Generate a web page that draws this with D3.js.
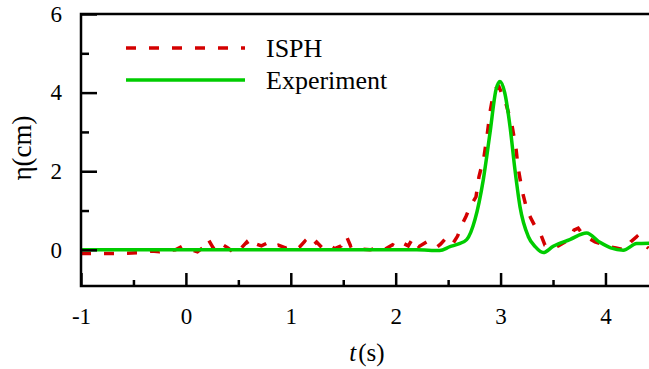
<!DOCTYPE html>
<html>
<head>
<meta charset="utf-8">
<script src="https://cdn.jsdelivr.net/npm/d3@7"></script>
<style>
  body { margin: 0; background: #fff; }
  text { font-family: "Liberation Serif", "Times New Roman", Times, serif !important; }
</style>
</head>
<body>
<svg id="chart" width="649" height="369" font-family="Liberation Serif"></svg>
<script>
// ISPH (dashed red)
const ispT = [-1.0, -0.6, -0.4, -0.33, -0.25, -0.18, -0.1, -0.03, 0.03, 0.11, 0.16, 0.21, 0.26, 0.3, 0.34, 0.4, 0.47, 0.53, 0.58, 0.62, 0.66, 0.72, 0.78, 0.83, 0.88, 0.95, 1.02, 1.08, 1.135, 1.19, 1.246, 1.3, 1.355, 1.42, 1.48, 1.53, 1.57, 1.61, 1.68, 1.755, 1.8, 1.85, 1.9, 1.97, 2.02, 2.07, 2.12, 2.165, 2.22, 2.295, 2.34, 2.39, 2.43, 2.47, 2.51, 2.55, 2.59, 2.63, 2.67, 2.71, 2.766, 2.794, 2.842, 2.87, 2.9, 2.937, 2.985, 3.05, 3.108, 3.147, 3.166, 3.204, 3.252, 3.29, 3.33, 3.385, 3.423, 3.46, 3.5, 3.55, 3.614, 3.66, 3.7, 3.74, 3.786, 3.84, 3.9, 3.97, 4.04, 4.1, 4.186, 4.24, 4.3, 4.36, 4.41];
const ispV = [-0.09, -0.09, -0.07, -0.03, -0.05, -0.02, 0.0, 0.1, 0.02, -0.05, 0.05, 0.28, 0.05, 0.0, 0.15, 0.05, -0.1, 0.05, 0.2, 0.05, 0.16, 0.1, 0.18, 0.08, 0.12, 0.05, 0.12, 0.06, 0.22, 0.05, 0.2, 0.05, 0.14, 0.03, 0.1, 0.35, 0.1, 0.14, 0.02, 0.0, 0.03, -0.03, 0.02, 0.13, 0.05, 0.17, 0.1, 0.3, 0.08, 0.2, 0.1, 0.06, 0.15, 0.27, 0.12, 0.18, 0.35, 0.63, 0.85, 1.1, 1.35, 1.86, 2.37, 2.88, 3.51, 4.07, 4.15, 3.73, 3.18, 2.58, 2.11, 1.52, 1.01, 0.8, 0.59, 0.38, 0.12, 0.08, 0.04, 0.1, 0.2, 0.28, 0.5, 0.55, 0.38, 0.3, 0.2, 0.15, 0.08, 0.05, 0.0, 0.2, 0.34, 0.15, 0.04];

// Experiment (solid green)
const expT = [-1.0, 2.2, 2.42, 2.518, 2.6, 2.677, 2.756, 2.835, 2.899, 2.956, 2.994, 3.04, 3.09, 3.137, 3.185, 3.264, 3.33, 3.407, 3.502, 3.66, 3.82, 3.947, 4.05, 4.17, 4.297, 4.415];
const expV = [0.0, 0.0, -0.02, 0.08, 0.15, 0.26, 0.77, 1.78, 2.97, 4.07, 4.28, 3.99, 3.14, 2.04, 1.1, 0.34, 0.08, -0.07, 0.09, 0.26, 0.43, 0.19, 0.05, -0.01, 0.16, 0.17];

const xTicks = [-1, 0, 1, 2, 3, 4];
const xMinor = [-0.5, 0.5, 1.5, 2.5, 3.5];
const yTicks = [0, 2, 4, 6];
const yMinor = [1, 3, 5];

const legendItems = [
  { name: "ISPH", color: "#d40000", dash: "10,13" },
  { name: "Experiment", color: "#00cc00", dash: null }
];

const FONT = "Liberation Serif";
const svg = d3.select("#chart");
const mLeft = 81, mRight = 649, mTop = 14, mBottom = 286;

const x = d3.scaleLinear().domain([-1, 4.415]).range([mLeft, mRight]);
const y = d3.scaleLinear().domain([-0.92, 6]).range([mBottom, mTop]);

svg.append("defs").append("clipPath").attr("id", "clip")
  .append("rect").attr("x", mLeft).attr("y", mTop).attr("width", mRight - mLeft).attr("height", mBottom - mTop);

const plot = svg.append("g").attr("clip-path", "url(#clip)");

const line = d3.line().x(d => x(d[0])).y(d => y(d[1]));

plot.append("path")
  .datum(ispT.map((t, i) => [t, ispV[i]]))
  .attr("d", line)
  .attr("fill", "none")
  .attr("stroke", "#d40000")
  .attr("stroke-width", 3.5)
  .attr("stroke-dasharray", "10,13");

plot.append("path")
  .datum(expT.map((t, i) => [t, expV[i]]))
  .attr("d", line.curve(d3.curveMonotoneX))
  .attr("fill", "none")
  .attr("stroke", "#00cc00")
  .attr("stroke-width", 3.5);

// x axis (ticks point inward)
svg.append("g").attr("transform", `translate(0,${mBottom})`)
  .call(d3.axisBottom(x).tickValues(xTicks).tickSize(-13).tickPadding(22).tickFormat(d => String(d)));
svg.append("g").attr("transform", `translate(0,${mBottom})`)
  .call(d3.axisBottom(x).tickValues(xMinor).tickSize(-6).tickFormat(""));

// y axis
svg.append("g").attr("transform", `translate(${mLeft},0)`)
  .call(d3.axisLeft(y).tickValues(yTicks).tickSize(-16).tickPadding(19).tickFormat(d => String(d)));
svg.append("g").attr("transform", `translate(${mLeft},0)`)
  .call(d3.axisLeft(y).tickValues(yMinor).tickSize(-8).tickFormat(""));

svg.selectAll(".domain").remove();
svg.selectAll("g").attr("font-family", FONT);
svg.selectAll(".tick line").attr("stroke", "#000").attr("stroke-width", 2.5);
svg.selectAll(".tick text").attr("font-family", FONT).attr("font-size", 23).attr("fill", "#000");

// frame lines: top, left, bottom
svg.append("path")
  .attr("d", `M${mRight},${mTop}H${mLeft}V${mBottom}H${mRight}`)
  .attr("fill", "none").attr("stroke", "#000").attr("stroke-width", 2.5);

// axis titles
const xt = svg.append("text").attr("x", 367).attr("y", 361).attr("text-anchor", "middle")
  .attr("font-family", FONT).attr("font-size", 25);
xt.append("tspan").attr("font-style", "italic").text("t");
xt.append("tspan").attr("dx", 2).text("(s)");

svg.append("text")
  .attr("transform", "translate(31,148) rotate(-90)")
  .attr("text-anchor", "middle")
  .attr("font-family", FONT).attr("font-size", 27)
  .text("η(cm)");

// legend
const leg = svg.append("g").attr("font-family", FONT);
legendItems.forEach((d, i) => {
  const ly = 48 + i * 32;
  leg.append("line")
    .attr("x1", 126).attr("x2", 245).attr("y1", ly).attr("y2", ly)
    .attr("stroke", d.color).attr("stroke-width", 3.5)
    .attr("stroke-dasharray", d.dash);
  leg.append("text").attr("x", 266).attr("y", ly + 9)
    .attr("font-family", FONT).attr("font-size", 26).text(d.name);
});
</script>
</body>
</html>
